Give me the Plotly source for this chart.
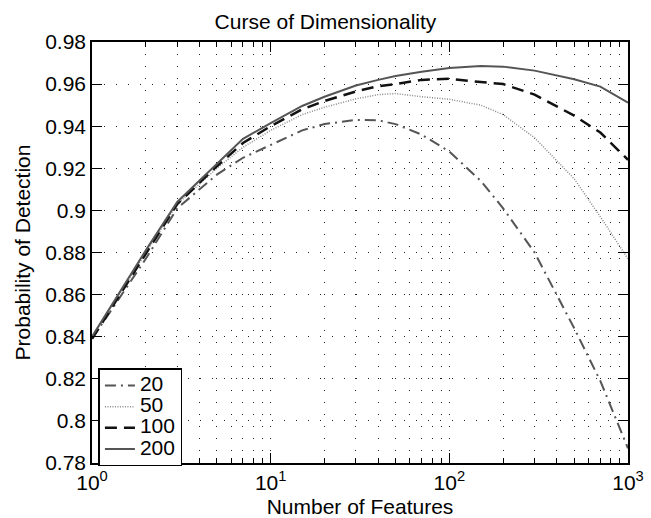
import plotly.graph_objects as go

# ---- data ----
features = [1, 2, 3, 5, 7, 10, 15, 20, 30, 40, 50, 70, 100, 150, 200, 300, 500, 700, 1000]

pd_20 = [0.839, 0.877, 0.901, 0.917, 0.925, 0.931, 0.938, 0.941, 0.943, 0.9428, 0.941, 0.936,
         0.928, 0.914, 0.901, 0.880, 0.844, 0.819, 0.787]
pd_50 = [0.840, 0.880, 0.903, 0.920, 0.930, 0.938, 0.9455, 0.949, 0.953, 0.955, 0.9555, 0.954,
         0.9528, 0.950, 0.9455, 0.9345, 0.915, 0.897, 0.877]
pd_100 = [0.839, 0.879, 0.903, 0.921, 0.932, 0.940, 0.948, 0.952, 0.9565, 0.959, 0.960, 0.962,
          0.9625, 0.961, 0.960, 0.955, 0.945, 0.937, 0.924]
pd_200 = [0.840, 0.881, 0.904, 0.922, 0.934, 0.9415, 0.9496, 0.954, 0.9593, 0.962, 0.9638, 0.9659,
          0.9677, 0.9686, 0.9683, 0.9664, 0.9623, 0.9588, 0.9512]

series_names = ["20", "50", "100", "200"]

x_tickvals = [1, 10, 100, 1000]
x_ticktext = ["10<sup>0</sup>", "10<sup>1</sup>", "10<sup>2</sup>", "10<sup>3</sup>"]
y_tickvals = [0.78, 0.80, 0.82, 0.84, 0.86, 0.88, 0.90, 0.92, 0.94, 0.96, 0.98]
y_ticktext = ["0.78", "0.8", "0.82", "0.84", "0.86", "0.88", "0.9", "0.92", "0.94", "0.96", "0.98"]

FONT = "Liberation Sans, Arial, Helvetica, sans-serif"
FS = 21

styles = [
    dict(color="#555555", width=2, dash="11px,5px,2px,5px"),
    dict(color="#8a8a8a", width=1.5, dash="1px,1.5px"),
    dict(color="#111111", width=2.5, dash="12px,7px"),
    dict(color="#555555", width=2, dash="solid"),
]

fig = go.Figure()
for name, ys, st in zip(series_names, [pd_20, pd_50, pd_100, pd_200], styles):
    fig.add_trace(go.Scatter(
        x=features, y=ys, mode="lines",
        name='<span style="font-size:%dpx">%s</span>' % (FS, name),
        line=st))

grid_common = dict(gridcolor="#222222", gridwidth=1, griddash="1px,11px")

fig.update_layout(
    width=651, height=518,
    margin=dict(l=92, r=23, t=42, b=55),
    paper_bgcolor="white", plot_bgcolor="white",
    font=dict(family=FONT, size=FS, color="black"),
    title=dict(text="Curse of Dimensionality", x=0.5, xanchor="center",
               y=0.958, yanchor="middle", font=dict(size=FS, family=FONT)),
    showlegend=True,
    legend=dict(x=0.012, y=-0.008, xanchor="left", yanchor="bottom",
                bordercolor="black", borderwidth=1.5, bgcolor="white",
                font=dict(size=14, family=FONT), tracegroupgap=0,
                itemwidth=30),
)

fig.update_xaxes(
    type="log", range=[0, 3], automargin=False,
    tickvals=x_tickvals, ticktext=x_ticktext,
    ticks="inside", ticklen=10, tickwidth=1, tickcolor="black",
    showline=True, linecolor="black", linewidth=1.5, mirror="ticks",
    showgrid=True, **grid_common,
    minor=dict(dtick="D1", ticks="inside", ticklen=5, tickwidth=1, tickcolor="black",
               showgrid=True, gridcolor="#222222", gridwidth=1, griddash="1px,11px"),
    zeroline=False,
    title=dict(text="Number of Features", standoff=8, font=dict(size=FS, family=FONT)),
    tickfont=dict(size=FS, family=FONT),
)
fig.update_yaxes(
    range=[0.78, 0.98], automargin=False,
    tickvals=y_tickvals, ticktext=y_ticktext,
    ticks="inside", ticklen=10, tickwidth=1, tickcolor="black",
    showline=True, linecolor="black", linewidth=1.5, mirror="ticks",
    showgrid=True, **grid_common,
    zeroline=False,
    title=dict(text="Probability of Detection", standoff=9, font=dict(size=FS, family=FONT)),
    tickfont=dict(size=FS, family=FONT),
)

fig.write_html("out.html")
